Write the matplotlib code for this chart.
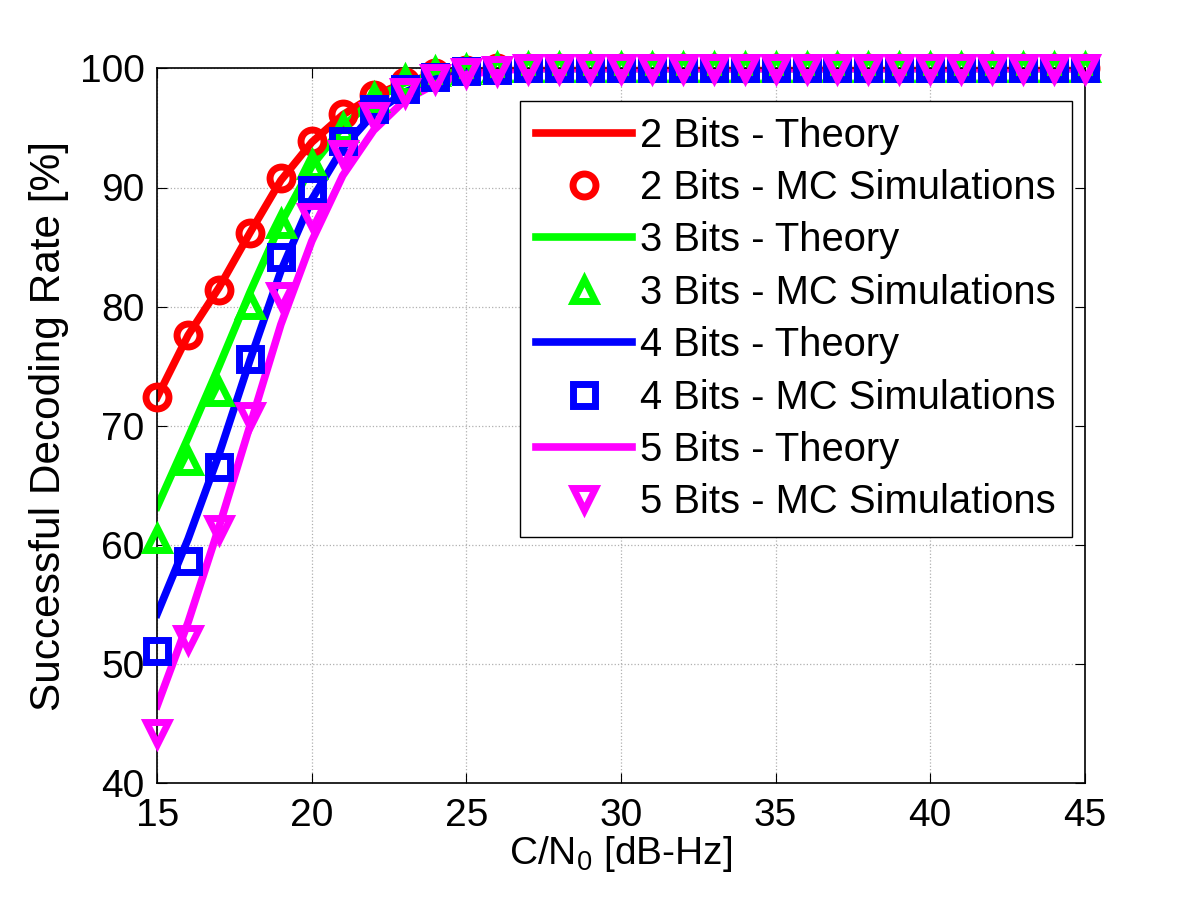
import numpy as np
import matplotlib.pyplot as plt

plt.rcParams['font.family'] = ['Liberation Sans', 'DejaVu Sans']
plt.rcParams['mathtext.fontset'] = 'custom'
plt.rcParams['mathtext.rm'] = 'Liberation Sans'

cn0 = np.arange(15, 46, 1)

# theory curves, then 100 for the rest
th2 = [72.4, 77.6, 81.6, 86.2, 90.6, 93.8, 96.1, 97.7, 98.8, 99.5, 99.8, 99.95]
th3 = [63.2, 69.0, 75.0, 81.2, 87.0, 91.8, 95.1, 97.4, 98.8, 99.5, 99.8, 99.95]
th4 = [54.2, 60.5, 67.6, 75.5, 83.0, 89.0, 93.3, 96.2, 98.0, 99.1, 99.6, 99.9]
th5 = [46.5, 53.5, 61.5, 70.0, 78.5, 85.5, 91.0, 94.8, 97.3, 98.7, 99.5, 99.8]

# Monte Carlo simulation points
mc2 = [72.4, 77.6, 81.4, 86.2, 90.8, 93.9, 96.2, 97.8, 98.9, 99.6, 99.9, 100.0]
mc3 = [60.5, 67.0, 72.8, 80.1, 86.9, 91.9, 95.0, 97.5, 99.0, 99.7, 99.9, 100.0]
mc4 = [51.1, 58.6, 66.5, 75.6, 84.2, 89.8, 93.9, 96.6, 98.3, 99.3, 99.8, 99.9]
mc5 = [44.2, 52.1, 61.3, 70.8, 80.9, 87.5, 92.8, 96.0, 98.0, 99.2, 99.7, 99.9]


def full(vals):
    return np.concatenate([vals, np.full(len(cn0) - len(vals), 100.0)])


series = [
    (2, th2, mc2, '#ff0000', 'o'),
    (3, th3, mc3, '#00ff00', '^'),
    (4, th4, mc4, '#0000ff', 's'),
    (5, th5, mc5, '#ff00ff', 'v'),
]

fig = plt.figure(figsize=(12, 9), dpi=100)
ax = fig.add_axes([0.131, 0.13, 0.773, 0.794])

for bits, th, mc, col, mk in series:
    ax.plot(cn0, full(th), '-', color=col, linewidth=5.5,
            label='%d Bits - Theory' % bits)
    ax.plot(cn0, full(mc), linestyle='none', marker=mk, markersize=16.5,
            markerfacecolor='none', markeredgecolor=col, markeredgewidth=5,
            clip_on=False, zorder=5, label='%d Bits - MC Simulations' % bits)

ax.set_xlim(15, 45)
ax.set_ylim(40, 100)
ax.set_xticks(np.arange(15, 46, 5))
ax.set_yticks(np.arange(40, 101, 10))
ax.grid(True, linestyle=':', color='#b0b0b0', linewidth=0.9)
ax.tick_params(direction='in', labelsize=28, length=7, top=True, right=True)
ax.tick_params(axis='x', pad=11)
ax.tick_params(axis='y', pad=9)
ax.set_xlabel('C/N$_0$ [dB-Hz]', fontsize=28, labelpad=0)
ax.set_ylabel('Successful Decoding Rate [%]', fontsize=30.5, labelpad=8)
for sp in ax.spines.values():
    sp.set_linewidth(1.2)

leg = ax.legend(loc='upper right', bbox_to_anchor=(0.986, 0.955), fontsize=28.8,
                handlelength=2.4, handletextpad=0.2, labelspacing=0.36,
                fancybox=False, framealpha=1, edgecolor='black', borderpad=0.4,
                borderaxespad=0)
leg.get_frame().set_linewidth(1.0)
leg.set_zorder(10)

fig.savefig('out.png', dpi=100)
